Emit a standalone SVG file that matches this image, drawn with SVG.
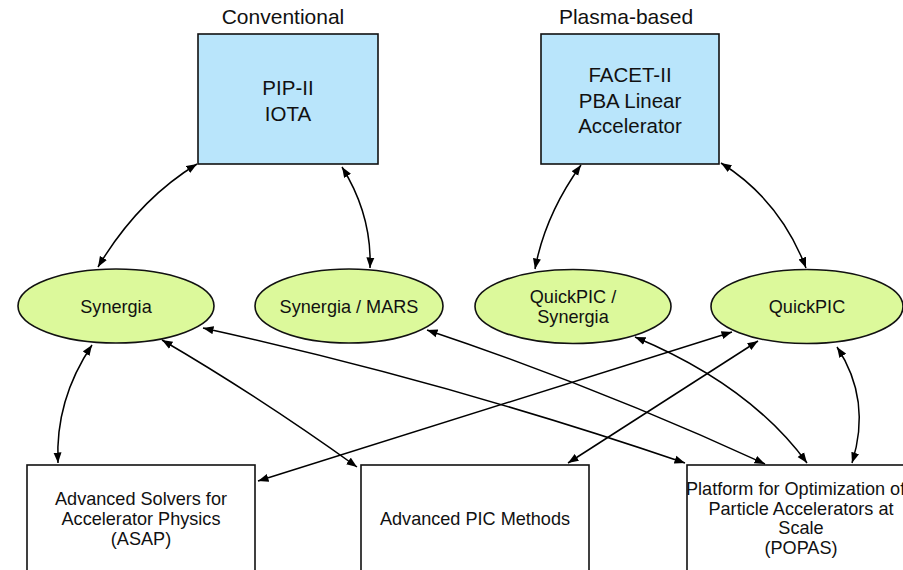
<svg xmlns="http://www.w3.org/2000/svg" width="903" height="570" viewBox="0 0 903 570">
<defs>
<marker id="ah" markerUnits="userSpaceOnUse" markerWidth="11" markerHeight="9" refX="10.5" refY="4.5" orient="auto-start-reverse">
<path d="M0,0.5 L10.5,4.5 L0,8.5 z" fill="#000"/>
</marker>
<style>
text{font-family:"Liberation Sans",Arial,Helvetica,sans-serif;fill:#111;text-anchor:middle}
.title{font-size:21px}
.big{font-size:20.5px}
.mid{font-size:18.1px}
.box{fill:#b9e5fb;stroke:#111;stroke-width:1.6}
.plain{fill:#fff;stroke:#111;stroke-width:1.6}
.ell{fill:#dcf99b;stroke:#111;stroke-width:1.6}
.c{fill:none;stroke:#000;stroke-width:1.5;marker-start:url(#ah);marker-end:url(#ah)}
</style>
</defs>
<rect width="903" height="570" fill="#fff"/>
<text class="title" x="283" y="24">Conventional</text>
<text class="title" x="626" y="24">Plasma-based</text>
<g id="pip">
<rect class="box" x="198" y="34" width="180" height="130"/>
<text class="big" x="288" y="94.5">PIP-II</text>
<text class="big" x="288" y="121">IOTA</text>
</g>
<g id="facet">
<rect class="box" x="541" y="34" width="178" height="130"/>
<text class="big" x="630" y="82">FACET-II</text>
<text class="big" x="630" y="107.5">PBA Linear</text>
<text class="big" x="630" y="133">Accelerator</text>
</g>
<g id="synergia">
<ellipse class="ell" cx="116" cy="306" rx="98" ry="37"/>
<text class="mid" x="116" y="313">Synergia</text>
</g>
<g id="mars">
<ellipse class="ell" cx="349" cy="306" rx="94" ry="37"/>
<text class="mid" x="349" y="313">Synergia / MARS</text>
</g>
<g id="qps">
<ellipse class="ell" cx="573" cy="306.5" rx="98" ry="37"/>
<text class="mid" x="573" y="303">QuickPIC /</text>
<text class="mid" x="573" y="323">Synergia</text>
</g>
<g id="qp">
<ellipse class="ell" cx="807" cy="306.5" rx="96" ry="37"/>
<text class="mid" x="807" y="313">QuickPIC</text>
</g>
<g id="asap">
<rect class="plain" x="27" y="465" width="228" height="115"/>
<text class="mid" x="141" y="505">Advanced Solvers for</text>
<text class="mid" x="141" y="525">Accelerator Physics</text>
<text class="mid" x="141" y="545">(ASAP)</text>
</g>
<g id="pic">
<rect class="plain" x="361" y="465" width="228" height="115"/>
<text class="mid" x="475" y="525">Advanced PIC Methods</text>
</g>
<g id="popas">
<rect class="plain" x="687" y="465" width="228" height="115"/>
<text class="mid" x="686" y="495" style="text-anchor:start">Platform for Optimization of</text>
<text class="mid" x="801" y="514.5">Particle Accelerators at</text>
<text class="mid" x="801" y="534">Scale</text>
<text class="mid" x="801" y="553.5">(POPAS)</text>
</g>
<g id="connectors">
<path class="c" d="M98,267 Q138,200 197,164"/>
<path class="c" d="M342,167 Q372,215 370,268"/>
<path class="c" d="M581,165 Q545,215 535,269"/>
<path class="c" d="M721,163 Q780,200 806,268"/>
<path class="c" d="M92,345 Q55,400 58,463"/>
<path class="c" d="M162,340 Q258,396 357,467"/>
<path class="c" d="M203,328 Q448,382 685,463"/>
<path class="c" d="M427,330 Q600,388 765,464"/>
<path class="c" d="M635,337 Q750,385 807,463"/>
<path class="c" d="M837,347 Q872,400 852,463"/>
<path class="c" d="M732,332 L258,481"/>
<path class="c" d="M758,341 L568,463"/>
</g>
</svg>
